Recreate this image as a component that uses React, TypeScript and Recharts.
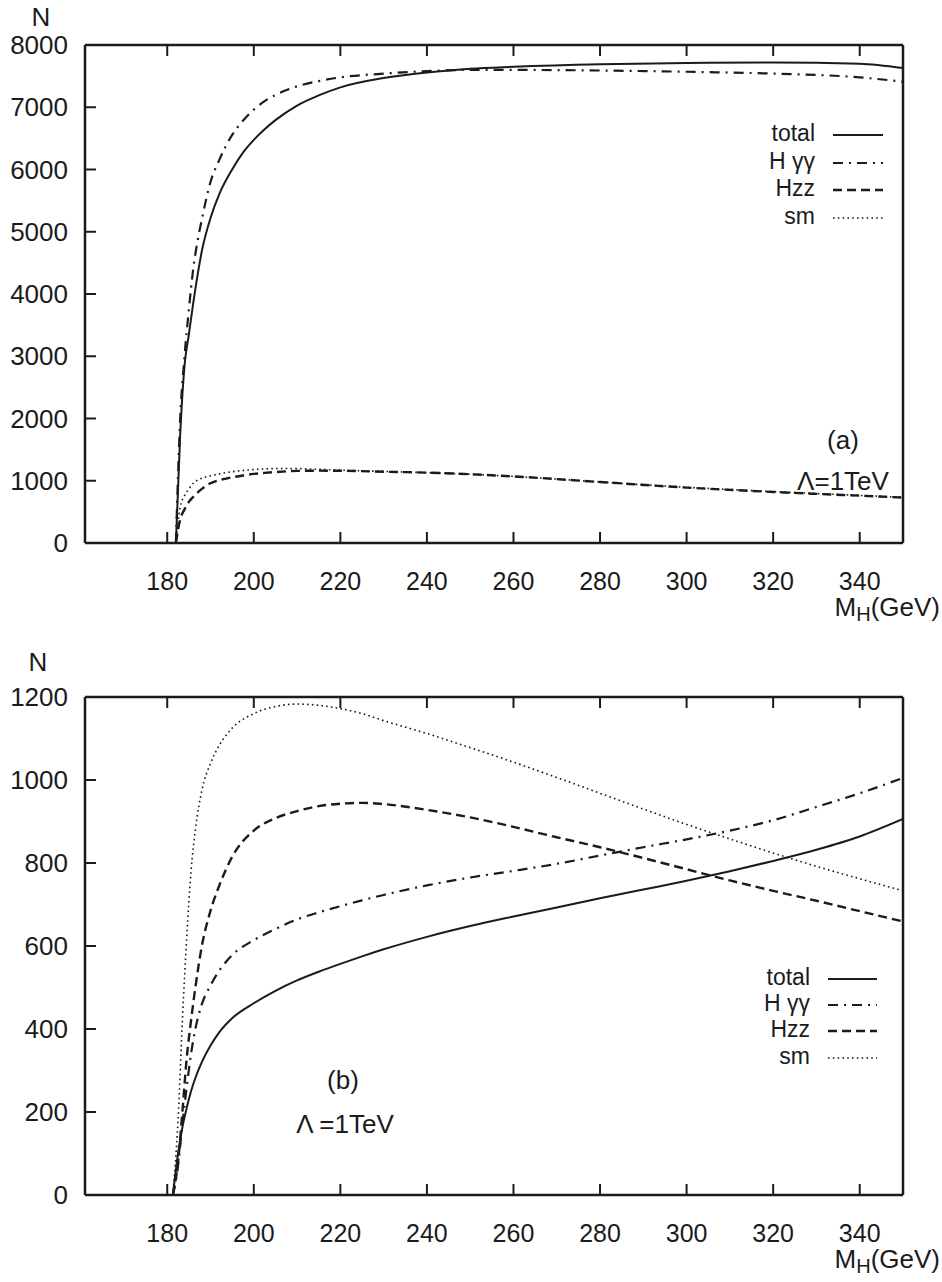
import React from 'react';
import { Line, LineChart, XAxis, YAxis } from 'recharts';

// panel (a): N vs M_H, Lambda = 1 TeV
const massA = [182, 183, 184, 185, 186, 187, 188, 190, 192, 195, 197.5, 200, 202.5, 205, 210, 215, 220, 230, 240, 250, 260, 280, 300, 320, 340, 350];
const totalA = [0, 1750, 2850, 3350, 3850, 4300, 4690, 5220, 5600, 6000, 6270, 6475, 6646, 6793, 7028, 7190, 7320, 7470, 7560, 7620, 7650, 7690, 7710, 7720, 7700, 7630];
const hggA = [0, 2000, 3000, 3750, 4400, 4850, 5200, 5800, 6150, 6555, 6783, 6962, 7099, 7196, 7336, 7420, 7480, 7540, 7580, 7600, 7600, 7590, 7570, 7540, 7480, 7410];
const hzzA = [0, 380, 540, 660, 740, 810, 870, 960, 1010, 1055, 1085, 1110, 1127, 1140, 1158, 1162, 1160, 1145, 1130, 1105, 1070, 980, 890, 820, 760, 730];
const smA = [0, 580, 760, 870, 960, 1010, 1040, 1080, 1110, 1145, 1165, 1180, 1190, 1196, 1195, 1183, 1170, 1150, 1130, 1105, 1070, 980, 895, 825, 765, 735];

// panel (b)
const massB = [181.3, 182.5, 183.5, 184.5, 185.5, 186.5, 188, 190, 192, 195, 200, 205, 210, 215, 220, 225, 230, 240, 250, 260, 270, 280, 290, 300, 310, 320, 330, 340, 350];
const totalB = [0, 100, 163, 210, 250, 282, 320, 360, 392, 426, 462, 492, 517, 538, 557, 575, 592, 622, 648, 671, 693, 715, 736, 757, 780, 805, 832, 864, 906];
const hggB = [0, 70, 170, 260, 340, 400, 460, 505, 540, 578, 614, 641, 664, 681, 696, 710, 723, 746, 765, 781, 798, 818, 838, 857, 878, 903, 935, 968, 1005];
const hzzB = [0, 80, 200, 330, 420, 500, 600, 685, 745, 815, 878, 908, 925, 937, 943, 945, 942, 928, 910, 887, 862, 838, 812, 785, 758, 733, 709, 684, 659];
const smB = [0, 180, 420, 620, 780, 880, 975, 1040, 1083, 1125, 1160, 1177, 1183, 1180, 1172, 1160, 1143, 1112, 1078, 1043, 1006, 968, 930, 893, 858, 824, 792, 762, 733];

const xTicks = [180, 200, 220, 240, 260, 280, 300, 320, 340];
const yTicksA = [0, 1000, 2000, 3000, 4000, 5000, 6000, 7000, 8000];
const yTicksB = [0, 200, 400, 600, 800, 1000, 1200];
const legendNames = ['total', 'H \u03b3\u03b3', 'Hzz', 'sm'];

const FONT = '"Liberation Sans", Arial, Helvetica, sans-serif';
const INK = '#1b1b1b';
const FS = 26;

const styles = [
  { key: 'total', dash: undefined, width: 2 },
  { key: 'hgg', dash: '10 6 2 6', width: 2.2 },
  { key: 'hzz', dash: '9 5', width: 2.4 },
  { key: 'sm', dash: '1.6 3.2', width: 1.6 },
];

const makeRows = (m: number[], t: number[], g: number[], z: number[], s: number[]) =>
  m.map((v, i) => ({ m: v, total: t[i], hgg: g[i], hzz: z[i], sm: s[i] }));

const rowsA = makeRows(massA, totalA, hggA, hzzA, smA);
const rowsB = makeRows(massB, totalB, hggB, hzzB, smB);

const TICK = 11;
const XAXIS_H = 97;

const BottomTick = (p: any) => (
  <g>
    <line x1={p.x} x2={p.x} y1={p.y} y2={p.y - TICK} stroke={INK} strokeWidth={2} />
    <text x={p.x} y={p.y + 38} textAnchor="middle" dominantBaseline="central" fontSize={FS - 1} fill={INK} fontFamily={FONT}>
      {p.payload.value}
    </text>
  </g>
);
const TopTick = (p: any) => <line x1={p.x} x2={p.x} y1={p.y} y2={p.y + TICK} stroke={INK} strokeWidth={2} />;
const LeftTick = (p: any) => (
  <g>
    <line x1={p.x} x2={p.x + TICK} y1={p.y} y2={p.y} stroke={INK} strokeWidth={2} />
    <text x={p.x - 17} y={p.y} textAnchor="end" dominantBaseline="central" fontSize={FS} fill={INK} fontFamily={FONT}>
      {p.payload.value}
    </text>
  </g>
);
const RightTick = (p: any) => <line x1={p.x} x2={p.x - TICK} y1={p.y} y2={p.y} stroke={INK} strokeWidth={2} />;

type PanelProps = {
  top: number;
  height: number;
  marginTop: number;
  rows: any[];
  yMax: number;
  yTicks: number[];
  nPos: [number, number];
  legend: { right: number; y: number[]; x1: number; x2: number };
  notes: { text: string; x: number; y: number }[];
};

const Panel = ({ top, height, marginTop, rows, yMax, yTicks, nPos, legend, notes }: PanelProps) => {
  const axisY = height - XAXIS_H;
  return (
    <div style={{ position: 'absolute', left: 0, top, width: 942, height }}>
      <LineChart width={942} height={height} data={rows} margin={{ top: marginTop, right: 38, bottom: 0, left: 0 }}>
        <XAxis dataKey="m" type="number" domain={[161, 350]} ticks={xTicks} interval={0} tickSize={0} tickMargin={0}
          tickLine={false} tick={<BottomTick />} axisLine={{ stroke: INK, strokeWidth: 2.5 }} height={XAXIS_H} allowDataOverflow />
        <XAxis xAxisId="top" orientation="top" dataKey="m" type="number" domain={[161, 350]} ticks={xTicks} interval={0}
          tickSize={0} tickMargin={0} tickLine={false} tick={<TopTick />} axisLine={{ stroke: INK, strokeWidth: 2.5 }} height={1} />
        <YAxis type="number" domain={[0, yMax]} ticks={yTicks} interval={0} tickSize={0} tickMargin={0} tickLine={false}
          tick={<LeftTick />} axisLine={{ stroke: INK, strokeWidth: 2.5 }} width={85} />
        <YAxis yAxisId="right" orientation="right" type="number" domain={[0, yMax]} ticks={yTicks} interval={0} tickSize={0}
          tickMargin={0} tickLine={false} tick={<RightTick />} axisLine={{ stroke: INK, strokeWidth: 2.5 }} width={1} />
        {styles.map((s) => (
          <Line key={s.key} dataKey={s.key} type="monotone" stroke={INK} strokeWidth={s.width} strokeDasharray={s.dash}
            dot={false} activeDot={false} isAnimationActive={false} />
        ))}
      </LineChart>
      <svg width={942} height={height} style={{ position: 'absolute', left: 0, top: 0, pointerEvents: 'none' }}>
        <g fontFamily={FONT} fontSize={FS} fill={INK}>
          <text x={nPos[0]} y={nPos[1]} textAnchor="middle" dominantBaseline="central">N</text>
          <text x={940} y={axisY + 64} textAnchor="end" dominantBaseline="central">
            M<tspan fontSize={20} dy={7}>H</tspan><tspan dy={-7}>(GeV)</tspan>
          </text>
          {notes.map((n) => (
            <text key={n.text} x={n.x} y={n.y} textAnchor="middle" dominantBaseline="central">{n.text}</text>
          ))}
          {legendNames.map((name, i) => (
            <g key={name}>
              <text x={legend.right} y={legend.y[i]} textAnchor="end" dominantBaseline="central" fontSize={23}>{name}</text>
              <line x1={legend.x1} x2={legend.x2} y1={legend.y[i] + 2} y2={legend.y[i] + 2} stroke={INK}
                strokeWidth={styles[i].width} strokeDasharray={styles[i].dash} />
            </g>
          ))}
        </g>
      </svg>
    </div>
  );
};

export default function App() {
  return (
    <div style={{ position: 'absolute', left: 0, top: 0, width: 942, height: 1282, background: '#fff' }}>
      <Panel top={0} height={640} marginTop={44} rows={rowsA} yMax={8000} yTicks={yTicksA} nPos={[41, 17]}
        legend={{ right: 815, y: [133, 161, 188, 216], x1: 833, x2: 883 }}
        notes={[{ text: '(a)', x: 843, y: 440 }, { text: '\u039b=1TeV', x: 843, y: 481 }]} />
      <Panel top={640} height={652} marginTop={56} rows={rowsB} yMax={1200} yTicks={yTicksB} nPos={[38, 22]}
        legend={{ right: 810, y: [337, 363, 389, 416], x1: 828, x2: 877 }}
        notes={[{ text: '(b)', x: 343, y: 440 }, { text: '\u039b =1TeV', x: 345, y: 484 }]} />
    </div>
  );
}
